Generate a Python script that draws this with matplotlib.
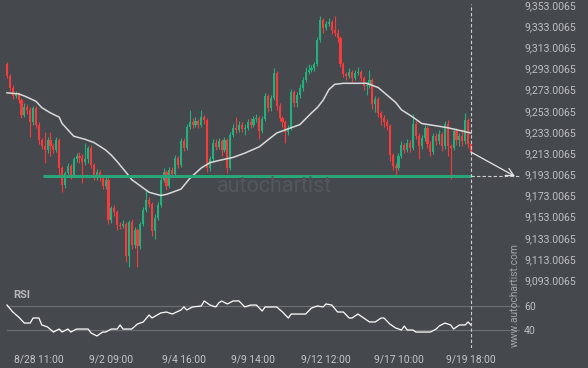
import matplotlib
matplotlib.use('Agg')
import matplotlib.pyplot as plt
import numpy as np

# Candles (open of each bar is the previous close)
first_open = 9297
closes = [
    9286, 9275, 9267, 9269, 9263, 9249, 9257, 9254, 9242, 9256,
    9240, 9225, 9220, 9216, 9225, 9220, 9216, 9225, 9199, 9183,
    9194, 9201, 9192, 9207, 9210, 9208, 9205, 9207, 9218, 9202,
    9191, 9195, 9190, 9182, 9188, 9150, 9161, 9157, 9145, 9144,
    9146, 9116, 9148, 9126, 9140, 9125, 9146, 9159, 9169, 9165,
    9139, 9152, 9164, 9188, 9195, 9182, 9197, 9193, 9208, 9202,
    9224, 9218, 9238, 9242, 9240, 9243, 9240, 9247, 9244, 9199,
    9207, 9223, 9219, 9224, 9216, 9225, 9199, 9230, 9237, 9235,
    9240, 9236, 9237, 9242, 9240, 9245, 9246, 9234, 9245, 9267,
    9256, 9265, 9289, 9258, 9246, 9242, 9233, 9237, 9271, 9260,
    9268, 9275, 9282, 9290, 9292, 9293, 9297, 9320, 9339, 9331,
    9335, 9337, 9329, 9327, 9322, 9297, 9288, 9286, 9290, 9284,
    9289, 9290, 9284, 9276, 9277, 9282, 9259, 9264, 9251, 9246,
    9242, 9239, 9211, 9201, 9199, 9210, 9221, 9216, 9223, 9218,
    9241, 9229, 9220, 9227, 9237, 9222, 9214, 9229, 9224, 9231,
    9220, 9241, 9220, 9218, 9234, 9225, 9229, 9224, 9244, 9222,
    9214,
]
highs = [
    9299, 9288, 9277, 9272, 9271, 9265, 9260, 9259, 9257, 9258,
    9258, 9242, 9227, 9233, 9228, 9233, 9223, 9228, 9227, 9201,
    9196, 9204, 9203, 9209, 9213, 9214, 9212, 9223, 9220, 9221,
    9204, 9198, 9197, 9192, 9190, 9190, 9163, 9164, 9159, 9148,
    9150, 9148, 9150, 9151, 9143, 9142, 9148, 9162, 9178, 9172,
    9167, 9155, 9167, 9190, 9199, 9197, 9200, 9200, 9211, 9210,
    9227, 9227, 9241, 9254, 9246, 9247, 9245, 9254, 9249, 9246,
    9210, 9226, 9226, 9227, 9226, 9228, 9227, 9233, 9241, 9247,
    9243, 9242, 9241, 9245, 9246, 9248, 9250, 9248, 9248, 9270,
    9269, 9268, 9293, 9291, 9260, 9248, 9244, 9240, 9274, 9273,
    9271, 9278, 9285, 9294, 9297, 9296, 9299, 9323, 9343, 9341,
    9338, 9341, 9339, 9343, 9330, 9324, 9299, 9290, 9293, 9292,
    9292, 9294, 9292, 9286, 9280, 9292, 9284, 9267, 9266, 9253,
    9249, 9245, 9241, 9213, 9204, 9213, 9224, 9223, 9226, 9225,
    9250, 9243, 9232, 9230, 9240, 9239, 9224, 9232, 9232, 9235,
    9233, 9243, 9244, 9222, 9237, 9237, 9232, 9236, 9251, 9246,
    9224,
]
lows = [
    9284, 9272, 9264, 9265, 9260, 9246, 9247, 9250, 9228, 9240,
    9237, 9222, 9217, 9204, 9213, 9210, 9213, 9214, 9191, 9176,
    9180, 9192, 9189, 9190, 9205, 9204, 9185, 9202, 9204, 9199,
    9188, 9188, 9187, 9179, 9179, 9146, 9147, 9154, 9140, 9141,
    9142, 9110, 9105, 9122, 9123, 9105, 9122, 9144, 9157, 9162,
    9135, 9132, 9150, 9162, 9186, 9178, 9180, 9190, 9191, 9199,
    9200, 9215, 9216, 9236, 9237, 9238, 9237, 9238, 9241, 9195,
    9196, 9205, 9216, 9217, 9210, 9214, 9194, 9197, 9228, 9232,
    9233, 9233, 9230, 9235, 9237, 9238, 9242, 9226, 9232, 9243,
    9252, 9253, 9263, 9254, 9243, 9238, 9223, 9230, 9235, 9257,
    9257, 9265, 9272, 9280, 9288, 9290, 9291, 9295, 9318, 9327,
    9329, 9333, 9326, 9324, 9318, 9294, 9285, 9282, 9284, 9280,
    9282, 9287, 9281, 9273, 9268, 9275, 9255, 9252, 9247, 9240,
    9238, 9235, 9206, 9197, 9192, 9197, 9208, 9213, 9214, 9214,
    9216, 9226, 9207, 9217, 9224, 9218, 9210, 9212, 9221, 9222,
    9215, 9217, 9210, 9189, 9216, 9221, 9220, 9220, 9222, 9218,
    9211,
]

# Moving average (sampled at bar indices)
ma_idx = [0, 4, 6, 10, 12, 15, 18, 19, 21, 23, 27, 30, 34, 36, 38, 41, 43, 46,
          49, 53, 55, 60, 63, 67, 70, 73, 78, 82, 87, 93, 98, 101, 105, 107,
          109, 111, 113, 116, 124, 128, 131, 134, 136, 140, 143, 152, 160]
ma_vals = [9270, 9269, 9267, 9262, 9256, 9251, 9247, 9241, 9235, 9229, 9226,
           9223, 9216, 9211, 9205, 9195, 9188, 9182, 9176, 9173, 9174, 9179,
           9189, 9199, 9204, 9206, 9209, 9213, 9219, 9232, 9237, 9240, 9251,
           9256, 9263, 9273, 9278, 9279, 9279, 9275, 9268, 9261, 9254, 9247,
           9241, 9237, 9232]

# RSI
rsi_idx = [0, 2, 4, 6, 8, 9, 11, 12, 14, 16, 18, 19, 21, 22, 24, 28, 29, 31,
           33, 34, 36, 38, 39, 40, 43, 45, 47, 49, 50, 53, 55, 57, 60, 61, 62,
           64, 67, 68, 70, 72, 73, 74, 76, 78, 80, 82, 84, 86, 88, 89, 93, 95,
           97, 98, 103, 105, 107, 109, 110, 112, 114, 116, 118, 119, 121, 123,
           125, 127, 129, 130, 132, 134, 136, 137, 138, 140, 141, 146, 148,
           149, 151, 153, 154, 156, 158, 159, 160]
rsi_vals = [60.8, 55.0, 50.8, 45.8, 45.8, 50.0, 50.0, 44.2, 42.5, 38.3, 40.8,
            38.3, 40.8, 38.3, 40.8, 40.8, 37.5, 35.0, 38.3, 38.3, 40.8, 40.8,
            44.2, 40.8, 40.8, 45.0, 46.7, 52.5, 50.0, 54.2, 55.0, 53.3, 56.7,
            59.2, 56.7, 59.2, 60.0, 64.2, 60.8, 59.2, 62.5, 64.2, 61.7, 64.2,
            64.2, 59.2, 60.8, 60.8, 55.8, 59.2, 59.2, 55.0, 50.0, 53.3, 53.3,
            58.3, 60.0, 59.2, 61.7, 60.8, 55.0, 55.0, 50.0, 50.0, 53.3, 50.0,
            46.7, 46.7, 50.0, 50.0, 45.0, 41.7, 40.0, 43.3, 40.0, 40.0, 38.3,
            38.3, 40.8, 43.3, 45.8, 44.2, 40.8, 44.2, 44.2, 46.7, 44.2]

# Pattern levels
support_level = 9191
support_start = 12.4
forecast_end = (175.2, 9191)

tick_idx = [11, 36, 61, 85, 110, 135, 160]
tick_labels = ['8/28 11:00', '9/2 09:00', '9/4 16:00', '9/9 14:00',
               '9/12 12:00', '9/17 10:00', '9/19 18:00']
price_ticks = [9093.0065 + 20 * k for k in range(14)]

BG = '#45494e'
GREEN = '#22b07c'
RED = '#f73a3b'
TXT = '#bdbfc2'

plt.rcParams['font.family'] = ['Roboto', 'DejaVu Sans']

fig = plt.figure(figsize=(5.88, 3.68), dpi=100, facecolor=BG)
ax = fig.add_axes([0, 1 - 288 / 368, 520 / 588, 288 / 368], facecolor=BG)
ax_rsi = fig.add_axes([0, 1 - 348 / 368, 520 / 588, 60 / 368], facecolor=BG)

n = len(closes)
idx = np.arange(n)
opens = np.array([first_open] + closes[:-1], dtype=float)
closes_a = np.array(closes, dtype=float)
up = closes_a >= opens
colors = np.where(up, GREEN, RED)

ax.vlines(idx, lows, highs, colors=colors, linewidth=0.8, zorder=2)
body_bottom = np.minimum(opens, closes_a)
body_h = np.maximum(np.abs(closes_a - opens), 1.0)
ax.bar(idx, body_h, bottom=body_bottom, width=0.72, color=colors, zorder=3)

ax.plot(ma_idx, ma_vals, color='#d9d9d9', linewidth=1.1, zorder=4)

# support line and forecast
last = n - 1
ax.hlines(support_level, support_start, last, colors='#2aa57a', linewidth=2.2, zorder=5)
ax.hlines(support_level, last, 177, colors='#cfcfcf', linewidth=0.8,
          linestyles=(0, (3, 2)), zorder=5)
ax.axvline(last, ymax=1 - 4 / 288, color='#cfcfcf', linewidth=0.8,
           linestyle=(0, (3, 2)), zorder=5)
ax.annotate('', xy=forecast_end, xytext=(last, closes[-1]),
            arrowprops=dict(arrowstyle='->', color='#e6e6e6', lw=0.9,
                            mutation_scale=14, shrinkA=0, shrinkB=0), zorder=6)

ax.set_xlim(-2.41, 176.9)
ax.set_ylim(9353.0065 - 283 / 1.058, 9353.0065 + 5 / 1.058)
ax.yaxis.tick_right()
ax.set_yticks(price_ticks)
ax.set_yticklabels(['{:,.4f}'.format(p) for p in price_ticks])
ax.tick_params(axis='y', length=0, pad=3, labelsize=7.6, labelcolor=TXT)
ax.set_xticks([])
for s in ax.spines.values():
    s.set_visible(False)

# watermark
fig.text(217 / 588, 1 - 186 / 368, 'autochartist', fontsize=15.5,
         color='#54585d', va='center', ha='left', zorder=1)

# RSI panel
ax_rsi.plot(rsi_idx, rsi_vals, color='white', linewidth=0.9, zorder=3)
for lvl in (40, 60):
    ax_rsi.axhline(lvl, xmin=7 / 520, color='#6a6d71', linewidth=0.9, zorder=1)
ax_rsi.axvline(last, color='#cfcfcf', linewidth=0.8, linestyle=(0, (3, 2)), zorder=5)
ax_rsi.set_xlim(-2.41, 176.9)
ax_rsi.set_ylim(25, 75)
ax_rsi.yaxis.tick_right()
ax_rsi.set_yticks([40, 60])
ax_rsi.tick_params(axis='y', length=0, pad=3, labelsize=7.6, labelcolor=TXT)
ax_rsi.set_xticks(tick_idx)
ax_rsi.set_xticklabels(tick_labels)
ax_rsi.tick_params(axis='x', length=0, pad=5, labelsize=7.4, labelcolor='#c4c6c8')
for s in ax_rsi.spines.values():
    s.set_visible(False)
ax_rsi.text(0.025, 0.88, 'RSI', transform=ax_rsi.transAxes, fontsize=8,
            fontweight='bold', color='#b5b7ba', va='center', ha='left')

fig.text(515 / 588, 1 - 295 / 368, 'www.autochartist.com', rotation=90,
         fontsize=7.4, color='#a3a6a9', ha='center', va='center')

fig.savefig('out.png', dpi=100, facecolor=BG)
